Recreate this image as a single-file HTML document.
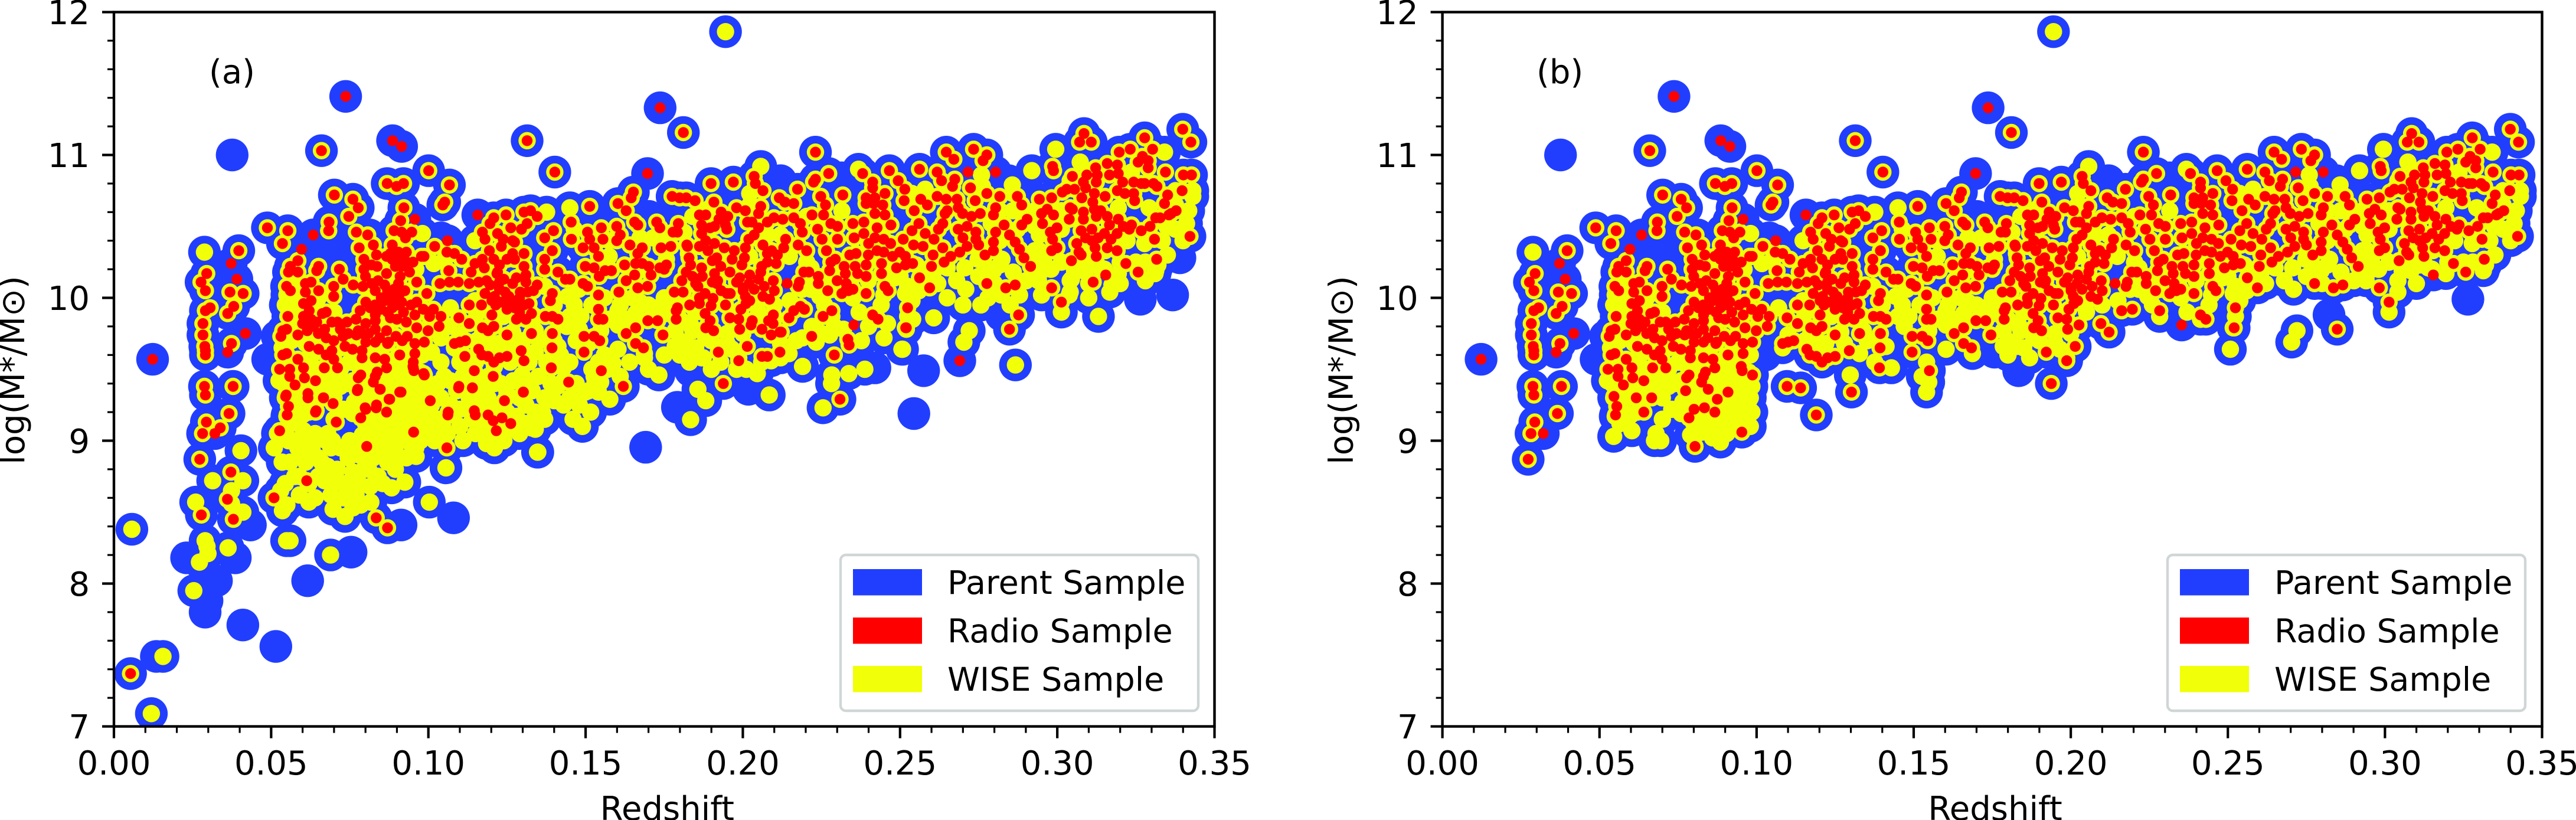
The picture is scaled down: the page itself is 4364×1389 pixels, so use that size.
<!DOCTYPE html>
<html lang="en">
<head>
<meta charset="utf-8">
<title>Stellar mass versus redshift</title>
<style>
html,body{margin:0;padding:0;background:#fff;}
svg{display:block;}
text{font-family:"DejaVu Sans","Liberation Sans",sans-serif;fill:#000;}
</style>
</head>
<body>
<svg id="figure" xmlns="http://www.w3.org/2000/svg" width="4364" height="1389" viewBox="0 0 4364 1389"></svg>
<script>
// Values are flat sequences: redshift, log mass, redshift, log mass, ...
const xTickValues = [0, 0.05, 0.10, 0.15, 0.20, 0.25, 0.30, 0.35];
const xTickLabels = ["0.00", "0.05", "0.10", "0.15", "0.20", "0.25", "0.30", "0.35"];
const yTickValues = [7, 8, 9, 10, 11, 12];
const yTickLabels = ["7", "8", "9", "10", "11", "12"];
const legendLabels = ["Parent Sample", "Radio Sample", "WISE Sample"];

// Radio sources with a WISE counterpart, present in both panels
const sharedRadioWise = [
.1811,11.157,.2231,11.02,.2273,10.87,.2225,10.81,.2231,10.83,.2174,10.76,.2116,10.70,.2134,10.67,.2162,10.66,.2466,10.89,.2562,10.90,.2647,11.02,.2671,10.97,.2734,11.04,.2776,11.00,.2764,10.96,.2618,10.88,.2632,10.82,.2674,10.83,.2667,10.78,.2381,10.87,.2413,10.81,.2413,10.77,.2494,10.82,.2515,10.76,.2513,10.68,.2452,10.73,.2392,10.70,.2420,10.70,.2392,10.66,.2416,10.66,.2445,10.65,.2318,10.72,.2248,10.71,.2263,10.65,.2220,10.58,.2257,10.58,.2280,10.52,.2301,10.50,.2238,10.48,.2252,10.41,.2301,10.41,.2266,10.33,.2176,10.37,.2203,10.33,.2136,10.41,.2189,10.46,.2183,10.52,.2162,10.56,.2127,10.55,.2099,10.56,.2078,10.53,.2050,10.49,.2036,10.44,.2019,10.41,.2015,10.53,.2029,10.53,.2057,10.64,.2050,10.59,.1980,10.63,.2008,10.61,.1931,10.60,.1952,10.57,.1945,10.51,.1924,10.55,.1949,10.48,.1862,10.58,.1882,10.58,.1869,10.51,.1869,10.45,.1896,10.49,.1910,10.50,.1882,10.40,.1862,10.36,.1889,10.33,.1910,10.38,.1941,10.35,.1973,10.33,.2008,10.35,.2005,10.28,.1966,10.27,.1997,10.23,.1829,10.28,.1824,10.36,.1903,10.26,.1917,10.28,.1834,10.23,.1820,10.18,.1869,10.21,.1871,10.15,.1910,10.17,.1903,10.11,.1917,10.10,.1806,10.12,.1959,10.18,.1980,10.11,.2001,10.07,.1857,10.08,.1931,10.05,.1950,10.03,.1782,10.04,.1810,10.04,.2022,10.16,.2050,10.13,.2057,10.18,.2078,10.25,.2106,10.24,.2078,10.31,.2064,10.37,.2092,10.33,.2036,10.06,.2068,10.08,.2008,10.01,.2001,10.05,.2064,10.01,.2085,9.99,.2022,9.98,.2097,10.12,.1905,9.996,.1899,9.945,.1862,10.0,.1862,9.96,.1831,9.95,.1792,9.93,.1788,9.91,.1994,9.92,.1959,9.86,.1987,9.85,.1788,9.85,.1880,9.89,.1896,9.84,.1882,9.79,.1907,9.77,.1990,9.78,.2026,9.81,.2014,9.66,.1987,9.56,.1938,9.40,.1922,9.62,.2096,9.82,.2122,9.76,.2162,9.91,.2196,9.92,.2180,10.11,.2176,10.08,.2194,10.18,.2210,10.18,.2240,10.15,.2276,10.19,.2283,9.91,.2413,9.88,.2430,9.85,.2520,9.79,.2524,9.93,.2329,10.06,.2336,10.05,.2315,10.03,.2326,10.17,.2329,10.10,.2294,10.27,.2322,10.22,.2357,10.22,.2392,10.23,.2441,10.24,.2441,10.17,.2392,10.15,.2392,10.03,.2452,10.08,.2462,10.05,.2354,10.42,.2360,10.31,.2385,10.45,.2427,10.49,.2448,10.41,.2350,10.52,.2385,10.53,.2420,10.59,.2452,10.58,.2471,10.51,.2510,10.41,.2399,10.30,.2427,10.33,.2448,10.32,.2476,10.29,.2499,10.32,.2517,10.29,.2517,10.23,.2489,10.21,.2543,10.37,.2560,10.52,.2538,10.47,.2545,10.61,.2566,10.69,.2587,10.65,.2618,10.71,.2647,10.69,.2643,10.59,.2681,10.69,.2685,10.63,.2573,10.36,.2580,10.45,.2608,10.41,.2622,10.48,.2636,10.52,.2650,10.61,.2636,10.35,.2661,10.29,.2605,10.30,.2562,10.14,.2594,10.07,.2699,10.59,.2727,10.57,.2755,10.59,.2797,10.58,.2776,10.73,.2817,10.71,.2804,10.63,.2739,10.68,.2724,10.77,.2685,10.48,.2713,10.50,.2741,10.46,.2713,10.36,.2741,10.41,.2797,10.33,.2804,10.46,.2831,10.51,.2797,10.39,.2776,10.10,.2836,10.07,.2866,10.09,.2848,10.44,.2866,10.39,.2880,10.34,.2894,10.28,.2915,10.22,.2887,10.51,.2904,10.55,.2873,10.71,.2887,10.65,.2943,10.69,.2982,10.70,.2985,10.92,.2988,10.89,.3048,10.85,.3016,10.74,.3030,10.76,.3055,10.76,.3094,10.86,.3083,10.81,.3090,10.77,.3127,10.86,.3124,10.81,.3122,10.91,.3159,10.94,.3191,10.93,.3166,10.86,.3194,10.87,.3071,11.09,.3085,11.15,.3108,11.09,.3197,11.02,.3232,11.04,.3303,11.04,.3278,11.12,.3257,10.95,.3271,10.99,.3289,10.96,.3289,10.91,.3344,10.88,.3399,11.18,.3425,11.09,.3401,10.86,.3427,10.86,.3397,10.75,.3351,10.72,.3306,10.80,.3317,10.78,.3278,10.80,.3243,10.81,.3208,10.81,.3267,10.80,.3191,10.75,.3215,10.73,.3243,10.73,.3246,10.68,.3152,10.71,.3118,10.73,.3113,10.67,.3078,10.70,.3041,10.63,.3048,10.62,.2968,10.62,.2988,10.58,.2950,10.59,.2953,10.52,.2999,10.49,.2978,10.46,.2985,10.41,.2982,10.33,.2999,10.35,.3038,10.55,.3083,10.60,.3083,10.55,.3118,10.62,.3124,10.57,.3159,10.57,.3138,10.61,.3194,10.55,.3166,10.51,.3076,10.47,.3062,10.38,.3069,10.32,.3076,10.30,.3045,10.26,.3124,10.29,.3159,10.35,.3190,10.33,.3171,10.41,.3218,10.24,.3257,10.18,.3229,10.48,.3236,10.51,.3267,10.47,.3295,10.50,.3313,10.56,.3327,10.56,.3362,10.59,.3378,10.61,.3341,10.66,.3355,10.58,.3309,10.41,.3316,10.27,.3422,10.43,.3013,9.97,.2982,10.07,.2848,9.78,
.1513,10.64,.1454,10.53,.1603,10.66,.1652,10.74,.1645,10.70,.1629,10.61,.1775,10.71,.1799,10.70,.1820,10.70,.1848,10.68,.1899,10.80,.1970,10.81,.2036,10.85,.2040,10.80,.2064,10.75,.1908,10.67,.1726,10.53,.1736,10.49,.1666,10.51,.1656,10.53,.1795,10.52,.1550,10.49,.1599,10.50,.1610,10.44,.1599,10.40,.1506,10.46,.1513,10.41,.1555,10.41,.1527,10.35,.1492,10.35,.1455,10.41,.1641,10.37,.1680,10.35,.1666,10.31,.1822,10.37,.1771,10.36,.1740,10.35,.1778,10.46,.1792,10.46,.1541,10.29,.1499,10.22,.1527,10.21,.1543,10.15,.1562,10.19,.1582,10.19,.1624,10.23,.1659,10.24,.1680,10.24,.1701,10.22,.1708,10.16,.1736,10.21,.1757,10.23,.1750,10.20,.1629,10.12,.1656,10.16,.1606,10.04,.1666,10.07,.1697,10.08,.1492,10.10,.1506,10.08,.1541,10.02,.1541,9.92,.1541,9.85,.1555,9.85,.1436,10.13,.1450,10.13,.1698,9.84,.1729,9.84,.1746,9.74,.1659,9.79,.1629,9.75,.1659,9.68,.1684,9.65,.1495,9.73,.1527,9.73,.1545,9.70,.1495,9.62,.1550,9.49,
.0660,11.03,.1001,10.89,.1314,11.10,.1402,10.88,.0869,10.80,.0899,10.78,.0921,10.80,.1067,10.79,.1052,10.67,.1046,10.65,.0701,10.72,.0760,10.69,.0777,10.63,.0747,10.57,.0922,10.63,.0912,10.54,.0684,10.53,.0683,10.47,.0488,10.49,.0553,10.47,.0536,10.38,.0771,10.46,.0807,10.44,.0780,10.35,.0825,10.37,.0891,10.47,.0915,10.46,.0947,10.46,.0927,10.42,.0885,10.37,.0867,10.29,.1020,10.36,.1059,10.32,.1083,10.31,.1106,10.27,.0978,10.29,.0986,10.29,.1196,10.52,.1208,10.56,.1247,10.58,.1304,10.60,.1325,10.61,.1346,10.57,.1314,10.52,.1296,10.48,.1370,10.42,.1398,10.47,.1172,10.46,.1180,10.41,.1220,10.45,.1262,10.49,.1238,10.41,.1274,10.39,.1194,10.33,.1304,10.31,.1172,10.27,.1208,10.27,.1250,10.27,.1226,10.23,.1148,10.24,.1136,10.18,.1220,10.18,.1274,10.27,.1304,10.22,.1310,10.16,.1370,10.27,.1394,10.33,.1370,10.20,.1412,10.18,.1065,10.19,.1037,10.10,.1067,10.11,.1095,10.11,.1130,10.10,.1160,10.11,.1196,10.09,.1226,10.11,.1268,10.10,.1310,10.11,.1346,10.09,.0963,10.11,.0932,10.25,.0915,10.27,.0915,10.22,.0951,10.25,.0879,10.31,.0795,10.27,.0819,10.23,.0795,10.20,.0837,10.22,.0867,10.17,.0831,10.05,.0861,10.09,.0891,10.06,.0909,10.03,.0861,9.98,.0885,9.93,.0915,9.97,.0897,10.01,.0761,10.09,.0792,10.08,.0995,10.03,.0963,9.97,.0984,9.92,.1016,9.92,.1004,9.87,.1040,9.87,.1034,9.80,.0921,9.90,.0879,9.86,.0957,9.88,.0831,9.88,.0801,9.97,.0783,9.91,.0831,9.84,.0801,9.82,.0777,9.77,.0831,9.78,.0867,9.77,.0897,9.73,.0933,9.73,.0963,9.79,.0999,9.77,.0987,9.69,.0957,9.68,.0957,9.61,.0917,9.70,.0909,9.60,.0873,9.69,.0831,9.69,.0801,9.69,.0771,9.74,.0759,9.64,.0789,9.63,.0831,9.58,.0861,9.57,.0867,9.51,.0837,9.48,.0789,9.58,.0785,9.46,.0777,9.44,.0951,9.52,.0954,9.49,.0987,9.46,.1097,9.86,.1130,9.82,.1172,9.79,.1190,9.77,.1208,9.80,.1250,9.74,.1328,9.75,.1394,9.75,.1100,9.69,.1083,9.68,.1118,9.70,.1160,9.64,.1170,9.60,.1190,9.59,.1208,9.55,.1226,9.58,.1250,9.59,.1295,9.63,.1302,9.34,.1097,9.38,.1140,9.37,.1190,9.18,.1130,9.95,.1169,9.95,.1202,9.98,.1202,9.88,.1214,9.95,.1244,9.98,.1274,9.93,.1280,9.85,.1310,9.85,.1280,9.98,.1316,10.04,.1372,9.87,.1394,9.87,.1393,9.65,.1391,9.51,.1388,9.98,.1394,10.03,.1412,9.85,.1244,10.04,.1268,10.31,.1292,10.04,.1334,10.05,.1218,10.17,.1226,10.06,.1268,9.96,.1304,9.95,.1328,9.89,.1256,10.01,.1178,10.21,.1232,10.36,.1268,10.40,
.0397,10.33,.0295,10.17,.0277,10.11,.0291,10.05,.0369,10.04,.0411,10.03,.0381,9.94,.0362,9.89,.0306,9.93,.0291,9.91,.0283,9.82,.0283,9.74,.0291,9.63,.0291,9.60,.0289,9.66,.0374,9.68,.0288,9.38,.0291,9.32,.0379,9.38,.0366,9.19,.0294,9.13,.0282,9.05,.0273,8.87,
.0561,10.22,.0555,10.18,.0585,10.26,.0585,10.18,.0651,10.22,.0645,10.19,.0717,10.20,.0729,10.13,.0549,10.08,.0561,10.05,.0609,10.10,.0627,10.11,.0609,10.04,.0651,10.05,.0699,10.08,.0699,10.01,.0675,9.90,.0693,9.83,.0553,9.87,.0537,9.77,.0531,9.73,.0549,9.78,.0603,9.96,.0603,9.87,.0627,9.98,.0621,9.91,.0627,9.85,.0663,9.89,.0645,9.83,.0615,9.77,.0585,9.74,.0615,9.79,.0711,9.83,.0741,9.83,.0675,9.72,.0699,9.70,.0729,9.73,.0735,9.66,.0693,9.63,.0675,9.60,.0699,9.57,.0711,9.51,.0621,9.66,.0651,9.64,.0537,9.60,.0549,9.61,.0585,9.57,.0603,9.51,.0527,9.50,.0559,9.50,.0559,9.45,.0606,9.44,.0576,9.39,.0641,9.42,.0617,9.30,.0666,9.30,.0546,9.31,.0555,9.24,.0551,9.18,.0641,9.20,.0669,9.51,.0774,9.35,.0846,9.36,.0909,9.34,.0875,9.29,.0834,9.23,.0801,9.22,.0867,9.20,.0785,9.16,.0953,9.06,.0804,8.96,.0831,9.45,.0825,9.41,
.0800,10.15,.0820,10.10,.0840,10.12,.0850,10.00,.0870,10.05,.0880,10.00,.0900,9.95,.0905,10.10,.0925,10.05,.0850,9.92,.0870,9.90,.0900,9.85,.0930,9.83,.0815,9.93,.0830,9.95,.0945,9.95,.0770,9.85,.0790,9.75,.0810,9.75,.0845,9.72,.0870,9.68,.0745,9.75,.0720,9.78,.0670,9.78,.0650,9.75,.0635,9.80,.0600,9.82,.0910,10.15,.0895,10.22,.0930,10.32,.0940,10.18,.0885,10.27,.0905,10.32,.0835,10.30,.1185,10.12,.1240,10.13,.1280,10.14,.1210,10.01,.1230,9.97,.1290,10.00,.1250,9.92,.1320,9.96,.1290,9.90,.1180,10.03,
.1850,10.10,.1880,10.03,.1920,10.12,.1960,10.03,.1990,10.14,.1840,10.15,.1945,9.95,.2010,9.96,.2100,10.05,.2020,10.10,.2060,10.22,.2110,10.30,.1930,10.22,.2130,10.35,.2240,10.10,.2270,10.05,.2300,10.12,.2350,10.06,.2365,10.17,.2280,10.25,.2340,10.30,.2400,10.38,.2420,10.42,.2470,10.38,.2540,10.24,.2600,10.22,.2640,10.25,.2690,10.32,.2700,10.42,.2750,10.37,.2770,10.30,.3110,10.40,.3130,10.42,.3090,10.42,.3110,10.48,.3150,10.45,.3190,10.45,.3210,10.50,.3120,10.35
];
// Radio sources without a WISE counterpart, present in both panels
const sharedRadioOnly = [.0737,11.41,.0886,11.10,.0915,11.06,.0123,9.57,.0373,10.24,.0391,10.13,.0418,9.75,.0362,9.62,.0321,9.05,.0634,10.44,.0597,10.34,.0957,10.55,.1157,10.58,.1061,10.40,.1737,11.33,.1697,10.87,.2716,10.88,.2804,10.88,.2353,9.81,.3154,10.16,.2141,10.10];
// WISE detections without radio, present in both panels
const sharedWiseOnly = [
.1945,11.863,.0288,10.32,.0810,9.33,.0830,9.28,.0850,9.18,.0870,9.09,.0890,9.12,.0910,9.23,.0930,9.18,.0950,9.30,.0970,9.20,.0965,9.12,.0940,9.08,.0905,9.05,.0885,8.99,.0860,9.02,.0825,9.06,.0800,9.12,.0785,9.28,.0765,9.27,.0760,9.19,.0790,9.04,.0930,9.40,.0900,9.40,.0870,9.40,.0840,9.33,.0965,9.40,.0975,9.28,.0985,9.20,.0980,9.30,.0740,9.40,.0720,9.38,.0700,9.30,.0690,9.42,.0665,9.41,.0645,9.31,.0620,9.20,.0590,9.30,.0565,9.12,.0600,9.18,.0560,9.38,.0540,9.40,.0525,9.42,.0580,9.47,.0650,9.50,.0610,9.38,.0590,9.55,.0625,9.58,.0670,9.63,.0720,9.65,.0750,9.55,.0960,9.39,.0730,9.22,.0700,9.15,.0680,9.05,.0675,9.00,.0695,9.00,.0545,9.03,.0550,9.17,.0603,9.07,.0800,9.50,.0840,9.55,.0880,9.44,.0910,9.50,.0940,9.52,.0980,9.60,.0985,9.38,.0850,9.60,.0810,9.60,.0750,9.78,.0700,9.90,.0640,9.90,.0580,9.90,.0545,9.95,.0610,9.68,.0565,9.70,.0550,10.02,.0585,10.10,.0870,10.10,.0960,10.20,
.1070,9.93,.1100,9.74,.1083,9.65,.1154,9.70,.1184,9.69,.1220,9.68,.1280,9.68,.1328,9.61,.1352,9.70,.1376,9.55,.1298,9.46,.1148,10.40,.1376,10.60,.1400,9.95,.1370,10.08,.1268,9.76,.1148,9.98,.1154,9.89,.1238,9.87,.1340,9.87,.1340,9.77,.1172,9.75,.1412,9.66,.0981,10.45,.1017,10.24,.1052,10.27,
.1450,10.63,.2057,10.92,.2995,11.04,.2919,10.89,.3073,10.95,.3341,11.02,.2368,10.90,.2759,10.86,.2857,10.79,.3431,10.75,.3418,10.61,.3411,10.52,.2709,10.06,.2508,9.64,.2720,9.77,.2703,9.69,.3013,9.90,.3041,10.12,.3041,10.04,.2517,10.03,.2538,9.98,.2524,9.87,.2517,9.79,.2283,9.87,.2245,10.01,.2217,10.06,.2448,10.02,.2413,9.85,.1924,9.64,.1966,9.64,.1987,9.58,.1869,9.58,.1827,9.66,.1799,9.70,.1882,9.72,.1834,9.81,.1785,9.77,.1687,9.61,.1603,9.64,.1541,9.55,.1541,9.34,.1548,9.41,.1429,9.51,.1527,9.45,.1603,9.91,.1659,9.89,.1603,9.81,.1548,9.77,.1715,9.91,.1743,9.95,.1673,9.97,.1729,9.85,.1785,9.66,.1841,9.77,.1757,9.89,.1575,9.85,.1631,9.85,.1478,10.06,.1443,10.01,.1450,9.87,.1485,9.87,.1464,9.95,.2650,10.21,.2706,10.21,.2769,10.23,.2797,10.19,.2817,10.23,.2929,10.25,.2943,10.17,.2929,10.33,.2901,10.12,.2824,10.27,.2748,10.27,.3097,10.33,.3111,10.23,.3097,10.40,.3152,10.33,.3222,10.40,.3278,10.38,.3334,10.40,.3348,10.50,.3376,10.48,.3194,10.17,.3320,10.23,.3313,10.19,.3250,10.25,.2929,10.50,.3013,10.61,.3194,10.63,.3292,10.63,.3431,10.71,.2203,10.25,.2217,10.21,.2148,10.29,.2189,10.06,.2287,10.06,.2287,10.14,.2343,10.12,.2399,10.12,.2483,10.14,.2552,10.23,.2608,10.19,.2580,10.14,.2524,10.08,.2259,10.57,.2203,10.57,.2315,10.61,.2538,10.73,.2580,10.76,.2650,10.73,.2762,10.78,.2859,10.73,.2817,10.61,.2859,10.61,.2873,10.48,.2929,10.61,.2943,10.44,.2022,10.73,.2022,10.65,.1896,10.63,.1841,10.57,.1813,10.46,.1757,10.40,.1715,10.42,.1673,10.42,.1575,10.40,.1464,10.48,.1575,10.29,.1757,10.27,.1827,10.31,.2022,10.29,.2078,10.44,.2120,10.44,.2790,10.52,.2817,10.40,.2943,10.33,.2957,10.27,.3013,10.25,.3055,10.19,.3083,10.19,.3138,10.21,.3013,10.48,.3376,10.75,.3376,10.65,.3236,10.88,.3222,10.80,.3069,10.82,.3041,10.82,
.0760,9.42,.0780,9.52,.0800,9.40,.0820,9.48,.0850,9.46,.0860,9.30,.0880,9.25,.0890,9.35,.0920,9.32,.0940,9.25,.0955,9.40,.0975,9.48,.0925,9.45,.0900,9.58,.0870,9.55,.0770,9.62,.0930,9.60,.0960,9.60,.0820,9.14,.0840,9.10,.0880,9.17,.0910,9.13,.0945,9.15,.0980,9.10,.0785,9.18,.0700,9.50,.0680,9.35,.0720,9.50,.0630,9.45,.0590,9.40,.0570,9.55,.0545,9.50,.0545,9.30,.0575,9.22,.0640,9.70,.0600,9.95,.0650,10.00,.0690,9.75,.0570,9.82,.0575,9.98,.0535,9.65,
.1470,9.80,.1520,9.95,.1560,10.00,.1610,9.95,.1650,10.00,.1700,9.95,.1750,10.00,.1800,9.85,.1850,9.90,.1900,9.70,.1950,9.75,.2000,9.75,.2050,9.90,.2100,9.95,.2150,9.98,.2230,10.10,.2260,9.95,.2350,10.00,.2370,9.90,.2440,9.95,.2500,10.15,.2560,10.05,.2620,10.10,.2680,10.12,.2750,10.15,.2800,10.10,.2860,10.18,.2940,10.12,.2980,10.20,.3040,10.25,.3100,10.10,.3150,10.20,.3200,10.25,.3280,10.25,.3350,10.30,.3400,10.40,.1800,9.60,.1850,9.65,.1950,9.68
];
// Parent sample only, present in both panels
const sharedParentOnly = [.0376,11.00,.1834,9.49,.3264,9.99,.2822,9.88,.1757,9.62,.0489,9.57,.0519,9.73,.0753,10.40,.0813,10.44,.1040,10.42,.0657,10.29,.0705,10.25,.1040,9.70,.1028,9.60,.1701,10.57,.2120,10.82,.2315,10.84,.2566,10.82,.2845,10.82];

// Additional low-mass objects shown only in panel (a)
const extraRadioWise = [.0053,7.37,.0278,8.48,.0380,8.45,.0361,8.59,.0509,8.60,.0834,8.46,.0870,8.39,.0372,8.78,.0338,9.09,.0613,8.72,.1059,8.95,.0707,9.13,.1216,9.07,.1206,9.14,.1234,9.16,.1262,9.12,.0527,9.07,.1062,9.18,.1149,9.18,.2061,9.59,.2078,9.59,.2118,9.62,.2219,9.73,.2291,9.60,.2334,9.71,.2338,9.67,.2518,9.79,.2147,9.86,.2183,9.94,.2255,9.87,.2030,9.84,.2061,9.78,.2118,9.76,.2090,9.74,.2097,9.88,.2082,9.84,.3114,10.11,.2877,9.88,.1620,9.38,.2309,9.29,.1446,9.41,.1302,9.34,.1242,9.28,.1206,9.45,.1146,9.49,.1140,9.37,.1096,9.37,.1006,9.28,.0877,9.29,.0913,9.34,.0835,9.25,.0799,9.23,.1063,9.20,.1146,9.21,.0775,9.36,.0847,9.36,.0697,9.26,.0667,9.30,.0617,9.33,.0643,9.21,.0548,9.32,.1304,9.56,.1116,9.59,.0985,9.47,.0952,9.51,.0952,9.55];
const extraRadioOnly = [.2690,9.56];
const extraWiseOnly = [
.0057,8.38,.0156,7.49,.0119,7.09,.0254,7.95,.0689,8.20,.0549,8.30,.0560,8.30,.0363,8.25,.0290,8.30,.0296,8.26,.0299,8.21,.0272,8.15,.1003,8.57,.0260,8.57,.0314,8.72,.0410,8.72,.0404,8.93,.1185,8.98,.1347,8.92,.1056,8.81,.0925,8.71,.0883,8.67,.0817,8.57,.0374,8.65,.0374,8.56,.0410,8.50,
.0510,8.95,.0520,9.05,.0535,8.85,.0545,8.70,.0550,8.55,.0536,8.51,.0575,8.75,.0590,8.62,.0600,8.90,.0620,8.70,.0640,8.60,.0650,8.75,.0620,8.57,.0660,8.85,.0690,8.62,.0697,8.52,.0735,8.47,.0760,8.53,.0785,8.55,.0780,8.70,.0760,8.78,.0730,8.70,.0710,8.80,.0690,8.95,.0720,8.95,.0750,9.00,.0780,8.90,.0810,8.80,.0840,8.75,.0870,8.85,.0900,8.90,.0840,8.95,.0800,9.00,.0930,9.00,.0960,8.95,.0961,8.89,.1010,9.05,.1060,9.05,.1100,9.10,.1030,9.15,.1150,9.05,.1250,9.08,.1290,9.05,.1240,9.00,.1210,8.95,
.1010,9.25,.1040,9.30,.1070,9.25,.1100,9.22,.1130,9.30,.1160,9.25,.1190,9.30,.1220,9.22,.1250,9.20,.1280,9.17,.1310,9.25,.1340,9.20,.1370,9.15,.1400,9.28,.1430,9.25,.1460,9.15,.1490,9.10,.1030,9.40,.1070,9.42,.1110,9.45,.1150,9.40,.1190,9.45,.1230,9.40,.1270,9.42,.1310,9.40,.1350,9.45,.1390,9.40,.1430,9.42,.1470,9.40,.1510,9.35,.1100,9.55,.1150,9.55,.1210,9.52,.1260,9.55,.1320,9.55,.1380,9.55,.1420,9.60,.1010,9.62,.1040,9.72,.1040,9.55,.1065,9.80,.1100,9.62,.1160,9.68,.1250,9.65,.1300,9.70,.1340,9.62,.1400,9.70,.1450,9.55,.1470,9.70,.1440,9.80,.1480,9.78,.1510,9.68,.1520,9.50,.1560,9.60,
.1348,8.92,.1834,9.147,.1882,9.28,.1857,9.36,.2084,9.32,.2255,9.23,.1516,9.20,.1363,9.195,.1577,9.29,.1499,9.34,.1536,9.35,.1327,9.09,.2282,9.40,.1733,9.46,.2190,9.52,.2283,9.46,.2337,9.47,.2388,9.50,.2506,9.64,.2867,9.53,.3131,9.87,
.1587,9.54,.1687,9.58,.1795,9.65,.1874,9.58,.1960,9.65,.2011,9.50,.2046,9.47,.2090,9.56,.2147,9.61,.2190,9.72,.2233,9.69,.2276,9.74,.2291,9.80,.2377,9.70,.2449,9.72,.2520,9.78,.2607,9.86,.2757,9.95,.2822,10.02,.2880,10.02,.3045,10.13,.3038,10.02,.3167,10.04,.3174,10.09,.3311,10.17,
.0530,8.65,.0560,8.85,.0570,9.00,.0590,8.75,.0610,8.85,.0630,8.95,.0650,8.88,.0670,8.72,.0680,8.82,.0640,9.05,.0610,9.00,.0585,8.95,.0555,9.00,.0700,8.72,.0730,8.60,.0750,8.68,.0770,8.62,.0745,8.88,.0770,8.98,.0795,8.80,.0825,8.88,.0855,8.70,.0815,8.68,.0875,8.95,.0910,9.00,.0895,8.80,.0930,8.88,.0950,9.05,.0975,9.00,.0995,9.10,.1020,9.00,.1045,9.12,.1080,9.18,.1110,9.00,.1140,9.15,.1170,9.10,.1200,9.05,.1220,9.12,.1270,9.15,.1310,9.12,.1340,9.08,.1000,9.35,.1050,9.45,.1090,9.35,.1130,9.50,.1170,9.35,.1210,9.40,.1250,9.33,.1290,9.30,.1330,9.35,.1370,9.30,.1410,9.38,.1450,9.30,.1480,9.25,.1530,9.42,.1570,9.50,.1610,9.45,.1640,9.55,.1700,9.50,.1750,9.60,.1830,9.55,.1900,9.50,.1930,9.55,.1980,9.50,.2060,9.55,.2120,9.68,.2170,9.70,.2120,9.58,.2220,9.80,.2250,9.75,.2320,9.78,.2400,9.80,.2460,9.82,.2540,9.85,.2650,10.00,.2700,9.95,.2780,10.00,.2850,9.95,.2950,10.02,.3100,10.00,.3200,10.10,.3280,10.12
];
const extraParentOnly = [.0290,7.80,.0410,7.71,.0515,7.56,.0616,8.02,.0754,8.22,.1080,8.46,.0434,8.41,.0913,8.41,.0231,8.18,.0386,8.18,.0326,8.02,.0296,7.88,.0135,7.49,.1691,8.954,.1792,9.234,.2544,9.19,.2018,9.36,.1447,9.19,.2575,9.49,.2420,9.51,.1860,9.50,.1817,9.54,.3367,10.02,.3390,10.28];

const X_MAX = 0.35, Y_MIN = 7, Y_MAX = 12;
const PLOT_TOP = 20.5, PLOT_BOTTOM = 1230.5;
const BLUE = "#213eff", RED = "#ff0000", YELLOW = "#f1ff08";
const SVGNS = "http://www.w3.org/2000/svg";
const svg = document.getElementById("figure");

function make(tag, parent, attrs, text) {
  const el = document.createElementNS(SVGNS, tag);
  for (const k in attrs) el.setAttribute(k, attrs[k]);
  if (text !== undefined) el.textContent = text;
  parent.appendChild(el);
  return el;
}

function drawPanel(cfg) {
  const xScale = z => cfg.left + (z / X_MAX) * (cfg.right - cfg.left);
  const yScale = m => PLOT_BOTTOM - ((m - Y_MIN) / (Y_MAX - Y_MIN)) * (PLOT_BOTTOM - PLOT_TOP);

  const panel = make("g", svg, {});
  
  

  const clip = make("clipPath", panel, {id: "clip-" + cfg.id});
  make("rect", clip, {x: cfg.left, y: PLOT_TOP, width: cfg.right - cfg.left, height: PLOT_BOTTOM - PLOT_TOP});
  const plot = make("g", panel, {"clip-path": "url(#clip-" + cfg.id + ")"});
  
  

  function series(lists, radius, fill, name) {
    const group = make("g", plot, {fill: fill});
    
    
    lists.forEach(list => {
      for (let i = 0; i + 1 < list.length; i += 2) {
        const c = make("circle", group, {cx: xScale(list[i]).toFixed(1), cy: yScale(list[i + 1]).toFixed(1), r: radius});
        
        
      }
    });
  }
  const allLists = cfg.parent.concat(cfg.wise, cfg.radioOnly);
  series(allLists, 27.7, BLUE, 'parent-sample');
  series(cfg.wise, 14.7, YELLOW, 'wise-sample');
  series(cfg.radioWise.concat(cfg.radioOnly), 9.2, RED, 'radio-sample');

  // minor ticks
  const minorGroup = make("g", panel, {stroke: "#000", "stroke-width": 3.2});
  
  
  for (let i = 0; i <= 35; i++) {
    if (i % 5 === 0) continue;
    const x = xScale(i / 100);
    make("line", minorGroup, {x1: x, x2: x, y1: PLOT_BOTTOM, y2: PLOT_BOTTOM + 11});
  }
  for (let i = 0; i <= 25; i++) {
    if (i % 5 === 0) continue;
    const y = yScale(7 + i / 5);
    make("line", minorGroup, {x1: cfg.left, x2: cfg.left - 11, y1: y, y2: y});
  }

  // major ticks and labels
  xTickValues.forEach((v, i) => {
    const x = xScale(v);
    const tick = make("line", panel, {x1: x, x2: x, y1: PLOT_BOTTOM, y2: PLOT_BOTTOM + 20, stroke: "#000", "stroke-width": 4.2});
    
    
    const label = make("text", panel, {x: x, y: 1312, "font-size": 56, "text-anchor": "middle"}, xTickLabels[i]);
    
    
  });
  yTickValues.forEach((v, i) => {
    const y = yScale(v);
    const tick = make("line", panel, {x1: cfg.left, x2: cfg.left - 20, y1: y, y2: y, stroke: "#000", "stroke-width": 4.2});
    
    
    const label = make("text", panel, {x: cfg.left - 41, y: y + 20.5, "font-size": 56, "text-anchor": "end"}, yTickLabels[i]);
    
    
  });

  // spines
  const frame = make("rect", panel, {x: cfg.left, y: PLOT_TOP, width: cfg.right - cfg.left, height: PLOT_BOTTOM - PLOT_TOP, fill: "none", stroke: "#000", "stroke-width": 4.4});
  
  

  // axis titles
  const xTitle = make("text", panel, {x: (cfg.left + cfg.right) / 2 + 5, y: 1389, "font-size": 56, "text-anchor": "middle"}, "Redshift");
  
  
  const titleX = cfg.left - 152;
  const yTitle = make("text", panel, {x: titleX, y: 627, "font-size": 56, "text-anchor": "middle", transform: "rotate(-90 " + titleX + " 627)"}, "log(M*/M\u2299)");
  
  

  // panel letter
  const letter = make("text", panel, {x: cfg.letterX, y: 141, "font-size": 56}, cfg.letter);
  
  

  // legend
  const lx = cfg.legendX;
  const legend = make("g", panel, {});
  
  
  const box = make("rect", legend, {x: lx, y: 940, width: 606, height: 264, rx: 9, fill: "#fff", stroke: "#d0d6d6", "stroke-width": 4.4});
  
  
  const colors = [BLUE, RED, YELLOW];
  const rows = [964, 1046, 1128];
  legendLabels.forEach((name, i) => {
    const swatch = make("rect", legend, {x: lx + 21, y: rows[i], width: 117, height: 44.5, fill: colors[i]});
    
    
    const t = make("text", legend, {x: lx + 181, y: rows[i] + 42, "font-size": 55.5}, name);
    
    
  });
}

drawPanel({
  id: "a", letter: "(a)", letterX: 354, left: 193, right: 2057.5, legendX: 1424,
  parent: [sharedParentOnly, extraParentOnly],
  wise: [sharedWiseOnly, extraWiseOnly, sharedRadioWise, extraRadioWise],
  radioWise: [sharedRadioWise, extraRadioWise],
  radioOnly: [sharedRadioOnly, extraRadioOnly]
});
drawPanel({
  id: "b", letter: "(b)", letterX: 2603, left: 2443.6, right: 4306.5, legendX: 3672,
  parent: [sharedParentOnly],
  wise: [sharedWiseOnly, sharedRadioWise],
  radioWise: [sharedRadioWise],
  radioOnly: [sharedRadioOnly]
});
</script>
</body>
</html>
